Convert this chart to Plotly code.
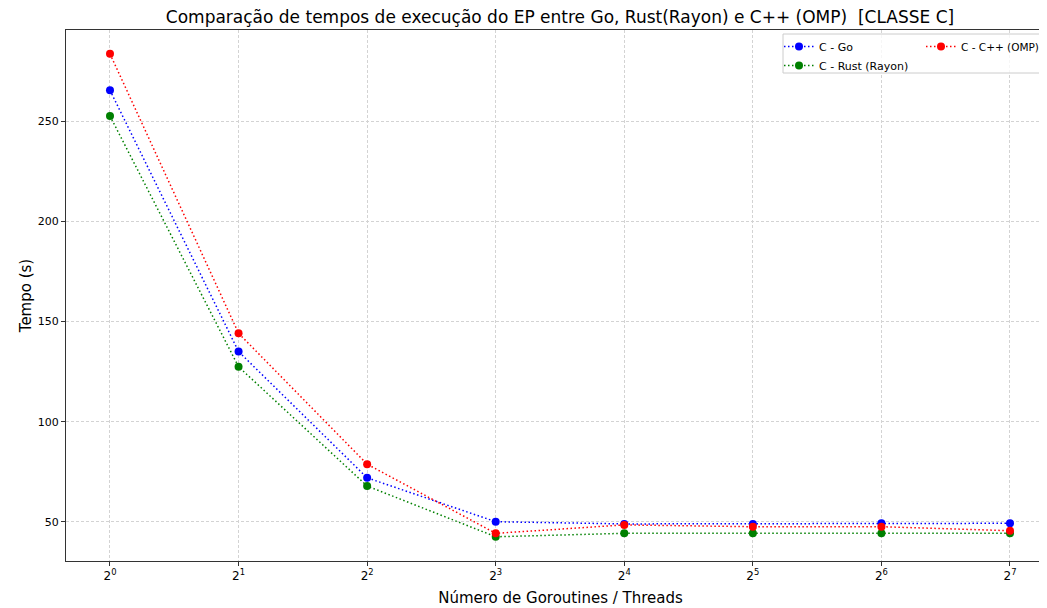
import plotly.graph_objects as go

threads = [1, 2, 4, 8, 16, 32, 64, 128]
tick_labels = ["2<sup>%d</sup>" % i for i in range(8)]
go_times = [265.3, 135.0, 72.0, 50.1, 49.0, 49.0, 49.3, 49.3]
rust_times = [252.5, 127.4, 67.9, 42.6, 44.3, 44.3, 44.3, 44.3]
cpp_times = [283.5, 144.1, 78.8, 44.3, 48.5, 47.6, 47.6, 45.6]

series = [
    ("C - Go", go_times, "blue", "legend"),
    ("C - Rust (Rayon)", rust_times, "green", "legend"),
    ("C - C++ (OMP)", cpp_times, "red", "legend2"),
]

fig = go.Figure()
for name, vals, color, leg in series:
    fig.add_trace(go.Scatter(
        x=threads, y=vals, name=name, mode="lines+markers",
        line=dict(color=color, width=1.5, dash="1.5px,2.5px"),
        marker=dict(color=color, size=8),
        legend=leg,
    ))

font = "DejaVu Sans, Arial, sans-serif"
# page body has an 8px margin, so figure coords = page coords - 8
plot_w = 989
plot_h = 531
leg_top = 1 - 2 / plot_h
fig.update_layout(
    width=1047, height=608,
    paper_bgcolor="white", plot_bgcolor="white",
    margin=dict(l=58, r=0, t=22, b=55, autoexpand=False),
    font=dict(family=font, size=11, color="black"),
    title=dict(text="Comparação de tempos de execução do EP entre Go, Rust(Rayon) e C++ (OMP)  [CLASSE C]",
               x=552 / 1047, xref="container", xanchor="center",
               y=1 - 9 / 608, yref="container", yanchor="middle",
               font=dict(size=17, family=font)),
    showlegend=True,
    legend=dict(orientation="v", x=(779 - 66) / plot_w, xanchor="left", y=leg_top, yanchor="top",
                bgcolor="rgba(0,0,0,0)", borderwidth=0,
                font=dict(size=11, family=font), traceorder="normal", itemwidth=30,
                tracegroupgap=0),
    legend2=dict(orientation="v", x=(921 - 66) / plot_w, xanchor="left", y=leg_top, yanchor="top",
                 bgcolor="rgba(0,0,0,0)", borderwidth=0,
                 font=dict(size=10.5, family=font), itemwidth=30),
    shapes=[dict(type="rect", xref="paper", yref="paper", layer="above",
                 x0=(783 - 66) / plot_w, x1=1.05,
                 y0=1 - (73 - 30) / plot_h, y1=1 - (34 - 30) / plot_h,
                 fillcolor="rgba(255,255,255,0.8)", line=dict(color="#cccccc", width=1))],
)
fig.update_xaxes(
    type="log", range=[-0.1030, 2.2126], automargin=False,
    tickvals=threads, ticktext=tick_labels,
    showgrid=True, gridcolor="#d3d3d3", griddash="3px,2px", gridwidth=1,
    showline=True, linecolor="#333333", linewidth=1, mirror=True,
    ticks="outside", ticklen=4, tickcolor="#333333", tickfont=dict(size=12),
    zeroline=False,
    title=dict(text="Número de Goroutines / Threads", font=dict(size=15), standoff=10),
)
fig.update_yaxes(
    range=[30.5, 295.4], tickvals=[50, 100, 150, 200, 250], automargin=False,
    showgrid=True, gridcolor="#d3d3d3", griddash="3px,2px", gridwidth=1,
    showline=True, linecolor="#333333", linewidth=1, mirror=True,
    ticks="outside", ticklen=4, tickcolor="#333333", tickfont=dict(size=11),
    zeroline=False,
    title=dict(text="Tempo (s)", font=dict(size=15), standoff=2),
)

fig.write_html("out.html")
